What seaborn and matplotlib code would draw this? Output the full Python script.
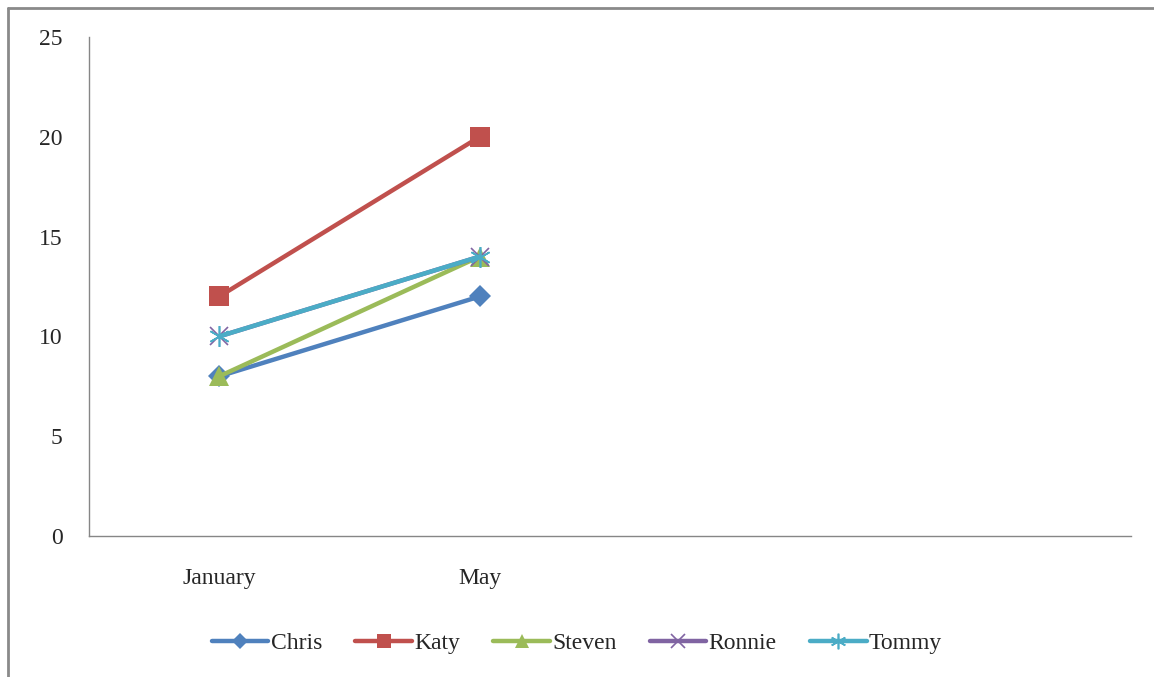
import pandas as pd
import matplotlib
matplotlib.use("Agg")
import matplotlib.pyplot as plt
import seaborn as sns
from matplotlib.lines import Line2D

# data
months = ["January", "May", "", ""]
chris = [8, 12]
katy = [12, 20]
steven = [8, 14]
ronnie = [10, 14]
tommy = [10, 14]

names = ["Chris", "Katy", "Steven", "Ronnie", "Tommy"]
series = [chris, katy, steven, ronnie, tommy]
colors = ["#4F81BD", "#C0504D", "#9BBB59", "#8064A2", "#4BACC6"]
markers = ["D", "s", "^", "x", (6, 2, 0)]
msizes = [11, 14, 14, 13, 15]

sns.set_style("white")
plt.rcParams["font.family"] = ["Liberation Serif", "DejaVu Serif"]

rows = []
for name, vals in zip(names, series):
    for i, v in enumerate(vals):
        rows.append({"name": name, "pos": i, "value": v})
df = pd.DataFrame(rows)

fig = plt.figure(figsize=(11.54, 6.77), dpi=100)
ax = fig.add_axes([0.0771, 0.2083, 0.9029, 0.737])

for name, col, mk, ms in zip(names, colors, markers, msizes):
    d = df[df["name"] == name]
    sns.lineplot(data=d, x="pos", y="value", ax=ax, color=col, linewidth=3.2,
                 marker=mk, markersize=ms, markeredgecolor=col,
                 markeredgewidth=1.2 if mk in ("x", (6, 2, 0)) else 0,
                 label=name, sort=False)

ax.set_xlim(-0.5, 3.5)
ax.set_ylim(0, 25)
ax.set_xticks(range(len(months)))
ax.set_xticklabels(months, fontsize=17)
ax.set_yticks([0, 5, 10, 15, 20, 25])
ax.set_yticklabels(["0", "5", "10", "15", "20", "25"], fontsize=17)
ax.tick_params(axis="y", length=0, pad=19)
ax.tick_params(axis="x", length=0, pad=23)
ax.set_xlabel("")
ax.set_ylabel("")
for s in ["top", "right"]:
    ax.spines[s].set_visible(False)
for s in ["left", "bottom"]:
    ax.spines[s].set_color("#868686")
    ax.spines[s].set_linewidth(1)

handles, labels = ax.get_legend_handles_labels()
ax.legend(handles, labels, loc="center", bbox_to_anchor=(0.5, 1 - 643 / 677),
          bbox_transform=fig.transFigure, ncol=5, frameon=False, fontsize=17,
          handlelength=2.4, handletextpad=0.1, columnspacing=1.4, markerscale=0.75)

# partial outer frame (top and left edges)
fig.add_artist(Line2D([8 / 1154, 1], [1 - 8 / 677, 1 - 8 / 677],
                      transform=fig.transFigure, color="#8a8a8a", linewidth=2))
fig.add_artist(Line2D([8 / 1154, 8 / 1154], [0, 1 - 8 / 677],
                      transform=fig.transFigure, color="#8a8a8a", linewidth=2))

fig.savefig("out.png", dpi=100)
